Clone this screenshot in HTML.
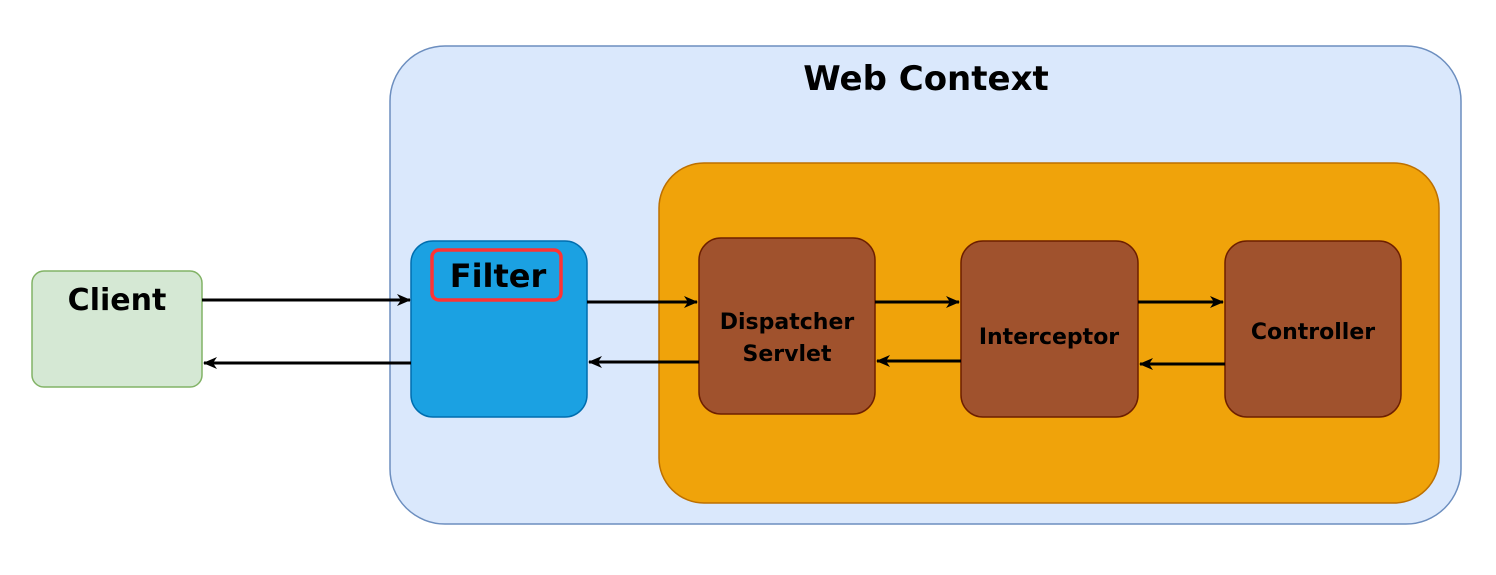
<!DOCTYPE html>
<html><head><style>
body{margin:0;width:1496px;height:570px;background:#fff;overflow:hidden}
</style></head><body>
<svg width="1496" height="570" xmlns="http://www.w3.org/2000/svg" font-family="'Comic Sans MS','DejaVu Sans','Liberation Sans',sans-serif" font-weight="bold">
<defs><marker id="a" markerWidth="14" markerHeight="12" refX="13" refY="6" orient="auto" markerUnits="userSpaceOnUse"><path d="M0,0 L14,6 L0,12 L4,6 Z" fill="#000"/></marker></defs>
<rect x="390" y="46" width="1071" height="478" rx="55" fill="#dae8fc" stroke="#6c8ebf" stroke-width="1.5"/>
<text x="926" y="90" font-size="34" text-anchor="middle">Web Context</text>
<rect x="659" y="163" width="780" height="340" rx="45" fill="#f0a30a" stroke="#bd7000" stroke-width="1.5"/>
<rect x="32" y="271" width="170" height="116" rx="12" fill="#d5e8d4" stroke="#82b366" stroke-width="1.5"/>
<text x="117" y="310" font-size="30" text-anchor="middle">Client</text>
<rect x="411" y="241" width="176" height="176" rx="22" fill="#1ba1e2" stroke="#006eaf" stroke-width="1.5"/>
<rect x="432" y="250" width="129" height="50" rx="7" fill="none" stroke="#ff3333" stroke-width="3.5"/>
<text x="498" y="287" font-size="32" text-anchor="middle">Filter</text>
<g fill="#a0522d" stroke="#6d1f00" stroke-width="1.5">
<rect x="699" y="238" width="176" height="176" rx="22"/>
<rect x="961" y="241" width="177" height="176" rx="22"/>
<rect x="1225" y="241" width="176" height="176" rx="22"/>
</g>
<g font-size="22" text-anchor="middle">
<text x="787" y="329">Dispatcher</text>
<text x="787" y="361">Servlet</text>
<text x="1049" y="344">Interceptor</text>
<text x="1313" y="339">Controller</text>
</g>
<g stroke="#000" stroke-width="3" marker-end="url(#a)">
<line x1="202" y1="300" x2="410" y2="300"/>
<line x1="411" y1="363" x2="204" y2="363"/>
<line x1="587" y1="302" x2="697" y2="302"/>
<line x1="699" y1="362" x2="589" y2="362"/>
<line x1="875" y1="302" x2="959" y2="302"/>
<line x1="961" y1="361" x2="877" y2="361"/>
<line x1="1138" y1="302" x2="1223" y2="302"/>
<line x1="1225" y1="364" x2="1140" y2="364"/>
</g>
</svg>
</body></html>
